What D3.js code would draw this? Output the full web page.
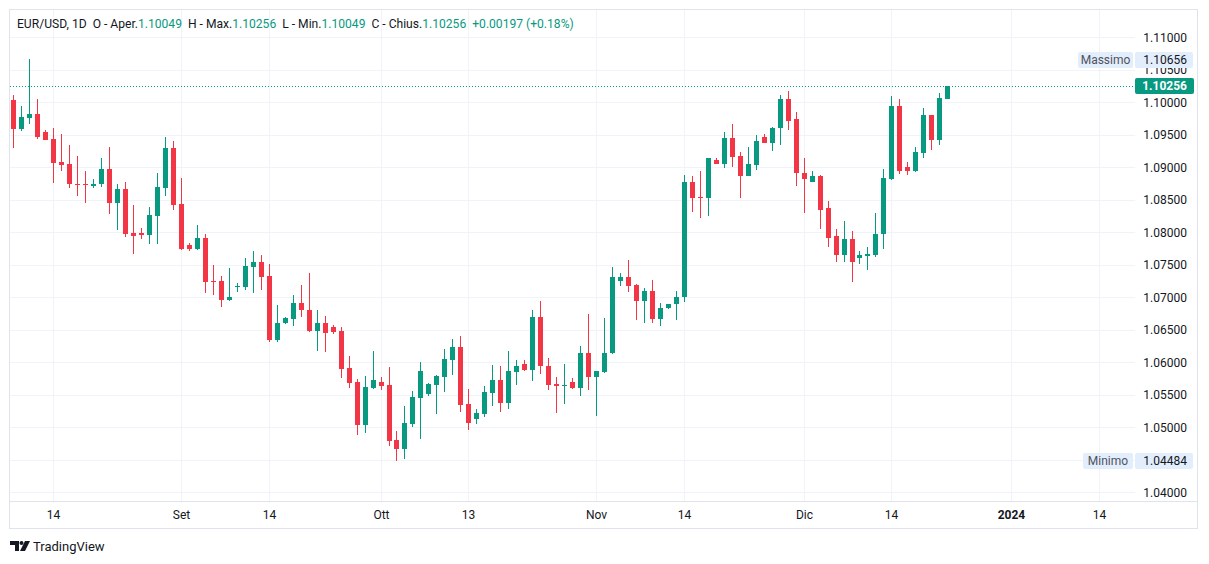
<!DOCTYPE html>
<html>
<head>
<meta charset="utf-8">
<script src="https://cdn.jsdelivr.net/npm/d3@7"></script>
<style>
  body { margin: 0; background: #ffffff; }
  svg { display: block; font-family: Roboto, "Noto Sans", sans-serif; }
</style>
</head>
<body>
<div id="chart"></div>
<script>
// EUR/USD daily candles, 8 Aug 2023 -> 22 Dec 2023 (the feed has a small Sunday bar every week)
const opens = [
  1.1003, 1.0959, 1.0976, 1.0982, 1.0954, 1.0943, 1.0908, 1.0905, 1.0875, 1.0874,
  1.0871, 1.0874, 1.0898, 1.0845, 1.0866, 1.0799, 1.0799, 1.0796, 1.0825, 1.0868,
  1.0930, 1.0844, 1.0780, 1.0774, 1.0791, 1.0725, 1.0725, 1.0696, 1.0717, 1.0716,
  1.0747, 1.0754, 1.0733, 1.0634, 1.0660, 1.0667, 1.0692, 1.0681, 1.0648, 1.0660,
  1.0655, 1.0648, 1.0591, 1.0570, 1.0504, 1.0560, 1.0570, 1.0565, 1.0480, 1.0467,
  1.0505, 1.0545, 1.0551, 1.0565, 1.0577, 1.0604, 1.0624, 1.0536, 1.0513, 1.0520,
  1.0553, 1.0573, 1.0537, 1.0585, 1.0597, 1.0588, 1.0669, 1.0595, 1.0566, 1.0564,
  1.0569, 1.0560, 1.0614, 1.0577, 1.0585, 1.0614, 1.0725, 1.0731, 1.0719, 1.0694,
  1.0710, 1.0667, 1.0684, 1.0690, 1.0700, 1.0878, 1.0854, 1.0853, 1.0912, 1.0905,
  1.0945, 1.0917, 1.0887, 1.0904, 1.0946, 1.0938, 1.0960, 1.1005, 1.0974, 1.0892,
  1.0878, 1.0886, 1.0837, 1.0794, 1.0765, 1.0789, 1.0760, 1.0763, 1.0765, 1.0797,
  1.0882, 1.0994, 1.0900, 1.0894, 1.0922, 1.0980, 1.0942, 1.10049
];
const highs = [
  1.1012, 1.0995, 1.1066, 1.1005, 1.0957, 1.0960, 1.0952, 1.0935, 1.0918, 1.0894,
  1.0882, 1.0914, 1.0931, 1.0874, 1.0877, 1.0842, 1.0807, 1.0839, 1.0892, 1.0946,
  1.0940, 1.0884, 1.0784, 1.0811, 1.0798, 1.0749, 1.0733, 1.0745, 1.0722, 1.0760,
  1.0772, 1.0765, 1.0752, 1.0688, 1.0669, 1.0703, 1.0719, 1.0737, 1.0680, 1.0672,
  1.0658, 1.0655, 1.0609, 1.0574, 1.0579, 1.0617, 1.0577, 1.0593, 1.0494, 1.0533,
  1.0556, 1.0600, 1.0568, 1.0580, 1.0620, 1.0636, 1.0640, 1.0559, 1.0528, 1.0564,
  1.0596, 1.0594, 1.0617, 1.0604, 1.0603, 1.0680, 1.0694, 1.0607, 1.0577, 1.0597,
  1.0576, 1.0625, 1.0675, 1.0587, 1.0668, 1.0746, 1.0738, 1.0757, 1.0720, 1.0715,
  1.0726, 1.0692, 1.0690, 1.0710, 1.0888, 1.0886, 1.0895, 1.0915, 1.0915, 1.0954,
  1.0966, 1.0923, 1.0931, 1.0949, 1.0951, 1.0962, 1.1011, 1.1017, 1.0985, 1.0914,
  1.0895, 1.0888, 1.0848, 1.0805, 1.0818, 1.0802, 1.0772, 1.0778, 1.0829, 1.0897,
  1.1009, 1.1005, 1.0908, 1.0932, 1.0991, 1.0981, 1.1015, 1.10256
];
const lows = [
  1.0930, 1.0956, 1.0967, 1.0944, 1.0942, 1.0876, 1.0894, 1.0868, 1.0856, 1.0845,
  1.0868, 1.0870, 1.0828, 1.0804, 1.0793, 1.0767, 1.0790, 1.0782, 1.0782, 1.0856,
  1.0834, 1.0773, 1.0771, 1.0773, 1.0707, 1.0704, 1.0685, 1.0694, 1.0708, 1.0711,
  1.0707, 1.0711, 1.0631, 1.0632, 1.0659, 1.0656, 1.0670, 1.0647, 1.0617, 1.0616,
  1.0643, 1.0576, 1.0560, 1.0488, 1.0491, 1.0559, 1.0557, 1.0471, 1.0448, 1.0451,
  1.0500, 1.0482, 1.0548, 1.0520, 1.0554, 1.0580, 1.0524, 1.0496, 1.0505, 1.0516,
  1.0533, 1.0524, 1.0528, 1.0565, 1.0587, 1.0571, 1.0582, 1.0557, 1.0522, 1.0536,
  1.0559, 1.0548, 1.0557, 1.0517, 1.0584, 1.0613, 1.0717, 1.0708, 1.0665, 1.0660,
  1.0660, 1.0656, 1.0682, 1.0665, 1.0693, 1.0831, 1.0822, 1.0825, 1.0905, 1.0899,
  1.0901, 1.0853, 1.0886, 1.0896, 1.0938, 1.0925, 1.0935, 1.0957, 1.0871, 1.0829,
  1.0878, 1.0805, 1.0778, 1.0754, 1.0755, 1.0723, 1.0751, 1.0742, 1.0762, 1.0774,
  1.0881, 1.0889, 1.0888, 1.0893, 1.0915, 1.0926, 1.0935, 1.10049
];
const closes = [
  1.0959, 1.0977, 1.0982, 1.0947, 1.0942, 1.0907, 1.0904, 1.0874, 1.0873, 1.0873,
  1.0875, 1.0898, 1.0845, 1.0866, 1.0797, 1.0794, 1.0796, 1.0827, 1.0870, 1.0930,
  1.0842, 1.0774, 1.0774, 1.0791, 1.0724, 1.0724, 1.0696, 1.0700, 1.0718, 1.0748,
  1.0754, 1.0731, 1.0634, 1.0660, 1.0668, 1.0692, 1.0680, 1.0648, 1.0660, 1.0645,
  1.0646, 1.0590, 1.0568, 1.0504, 1.0562, 1.0573, 1.0564, 1.0479, 1.0467, 1.0507,
  1.0547, 1.0587, 1.0567, 1.0579, 1.0605, 1.0624, 1.0534, 1.0507, 1.0522, 1.0554,
  1.0573, 1.0537, 1.0587, 1.0594, 1.0588, 1.0669, 1.0594, 1.0565, 1.0564, 1.0565,
  1.0560, 1.0614, 1.0577, 1.0586, 1.0615, 1.0731, 1.0731, 1.0717, 1.0694, 1.0710,
  1.0667, 1.0684, 1.0690, 1.0701, 1.0878, 1.0853, 1.0853, 1.0914, 1.0905, 1.0945,
  1.0916, 1.0887, 1.0905, 1.0940, 1.0938, 1.0960, 1.1005, 1.0972, 1.0891, 1.0882,
  1.0886, 1.0835, 1.0792, 1.0765, 1.0789, 1.0754, 1.0765, 1.0767, 1.0798, 1.0883,
  1.0994, 1.0894, 1.0894, 1.0923, 1.0980, 1.0942, 1.10059, 1.10256
];

// Price axis ticks
const priceTicks = [1.04, 1.045, 1.05, 1.055, 1.06, 1.065, 1.07, 1.075, 1.08, 1.085, 1.09, 1.095, 1.10, 1.105, 1.11];

// Time axis ticks (date of the bar, label shown)
const tickDates  = ["2023-08-14", "2023-09-01", "2023-09-14", "2023-10-01", "2023-10-13", "2023-11-01", "2023-11-14", "2023-12-01", "2023-12-14", "2024-01-01", "2024-01-14"];
const tickLabels = ["14", "Set", "14", "Ott", "13", "Nov", "14", "Dic", "14", "2024", "14"];

const maxPrice = 1.10656;
const minPrice = 1.04484;
const lastPrice = 1.10256;

const green = "#089981";
const red = "#f23645";
const gridColor = "#f0f3fa";
const frameColor = "#e0e3eb";
const textColor = "#131722";

const width = 1209;
const height = 564;

// plot area (inside the frame) and the price scale on the right
const plotLeft = 10, plotRight = 1135, plotTop = 10, plotBottom = 501;

// Session days: every calendar day from the first candle, Saturdays skipped
const fmt = d3.timeFormat("%Y-%m-%d");
const sessionDays = [];
for (let d = new Date(2023, 7, 8); sessionDays.length < 150; d.setDate(d.getDate() + 1)) {
  if (d.getDay() !== 6) sessionDays.push(fmt(d));
}

const step = 7.983; // one bar
const x = d3.scaleBand()
  .domain(sessionDays)
  .range([13.3 - step / 2, 13.3 - step / 2 + step * sessionDays.length]);
const cx = d => Math.round(x(d) + x.bandwidth() / 2);

const y = d3.scaleLinear().domain([1.04, 1.11]).range([492.3, 37.3]);
const py = v => Math.round(y(v));

const candles = opens.map((o, i) => ({
  day: sessionDays[i], o: o, h: highs[i], l: lows[i], c: closes[i]
}));

const svg = d3.select("#chart")
  .append("svg")
  .attr("width", width)
  .attr("height", height);

svg.append("rect").attr("width", width).attr("height", height).attr("fill", "#ffffff");

// grid
svg.append("g")
  .selectAll("line")
  .data(priceTicks)
  .enter()
  .append("line")
  .attr("x1", plotLeft).attr("x2", plotRight)
  .attr("y1", d => py(d) + 0.5).attr("y2", d => py(d) + 0.5)
  .attr("stroke", gridColor);

svg.append("g")
  .selectAll("line")
  .data(tickDates)
  .enter()
  .append("line")
  .attr("x1", d => cx(d) + 0.5).attr("x2", d => cx(d) + 0.5)
  .attr("y1", plotTop).attr("y2", plotBottom)
  .attr("stroke", gridColor);

// frame + time axis separator
svg.append("rect")
  .attr("x", 9.5).attr("y", 9.5)
  .attr("width", 1188).attr("height", 519)
  .attr("fill", "none")
  .attr("stroke", frameColor);

svg.append("line")
  .attr("x1", 10).attr("x2", 1197)
  .attr("y1", plotBottom + 0.5).attr("y2", plotBottom + 0.5)
  .attr("stroke", frameColor);

// last price dotted line
svg.append("line")
  .attr("x1", plotLeft).attr("x2", 1133)
  .attr("y1", py(lastPrice) + 0.5).attr("y2", py(lastPrice) + 0.5)
  .attr("stroke", green)
  .attr("stroke-dasharray", "1,2");

// candles: wick first, then body
const candleG = svg.append("g");

candleG.selectAll(".wick")
  .data(candles)
  .enter()
  .append("rect")
  .attr("class", "wick")
  .attr("x", d => cx(d.day))
  .attr("width", 1)
  .attr("y", d => py(d.h))
  .attr("height", d => Math.max(1, py(d.l) - py(d.h)))
  .attr("fill", d => d.c >= d.o ? green : red);

candleG.selectAll(".body")
  .data(candles)
  .enter()
  .append("rect")
  .attr("class", "body")
  .attr("x", d => cx(d.day) - 2)
  .attr("width", 5)
  .attr("y", d => py(Math.max(d.o, d.c)))
  .attr("height", d => Math.max(1, py(Math.min(d.o, d.c)) - py(Math.max(d.o, d.c))))
  .attr("fill", d => d.c >= d.o ? green : red);

// price scale labels (the one hidden under the Massimo marker only shows its lower half)
svg.append("clipPath").attr("id", "under-max")
  .append("rect").attr("x", 1136).attr("y", Math.round(y(maxPrice)) + 8)
  .attr("width", 70).attr("height", 40);

svg.append("g")
  .selectAll("text")
  .data(priceTicks)
  .enter()
  .append("text")
  .attr("x", 1187)
  .attr("y", d => y(d) + 4.3)
  .attr("text-anchor", "end")
  .attr("font-size", 12)
  .attr("fill", textColor)
  .attr("clip-path", d => Math.abs(y(d) - y(maxPrice)) < 14 ? "url(#under-max)" : null)
  .text(d => d3.format(".5f")(d));

// time scale labels
svg.append("g")
  .selectAll("text")
  .data(tickDates)
  .enter()
  .append("text")
  .attr("x", d => cx(d) + 0.5)
  .attr("y", 519)
  .attr("text-anchor", "middle")
  .attr("font-size", 12)
  .attr("font-weight", (d, i) => tickLabels[i] === "2024" ? "bold" : "normal")
  .attr("fill", textColor)
  .text((d, i) => tickLabels[i]);

// Massimo / Minimo markers on the price scale
function addMarker(name, value, nameLeft) {
  const top = Math.round(y(value)) - 8;
  svg.append("rect")
    .attr("x", nameLeft).attr("y", top)
    .attr("width", 1133 - nameLeft).attr("height", 16)
    .attr("rx", 2)
    .attr("fill", "#e3eefc");
  svg.append("text")
    .attr("x", (nameLeft + 1133) / 2).attr("y", top + 12)
    .attr("text-anchor", "middle")
    .attr("font-size", 12)
    .attr("fill", "#50535e")
    .text(name);
  svg.append("rect")
    .attr("x", 1135).attr("y", top)
    .attr("width", 58).attr("height", 16)
    .attr("rx", 2)
    .attr("fill", "#e3eefc");
  svg.append("text")
    .attr("x", 1187).attr("y", top + 12)
    .attr("text-anchor", "end")
    .attr("font-size", 12)
    .attr("fill", textColor)
    .text(d3.format(".5f")(value));
}
addMarker("Massimo", maxPrice, 1078);
addMarker("Minimo", minPrice, 1083);

// last price label
const lastTop = py(lastPrice) - 8;
svg.append("rect")
  .attr("x", 1135).attr("y", lastTop)
  .attr("width", 59).attr("height", 16)
  .attr("rx", 2)
  .attr("fill", green);
svg.append("text")
  .attr("x", 1187).attr("y", lastTop + 12)
  .attr("text-anchor", "end")
  .attr("font-size", 12)
  .attr("font-weight", "bold")
  .attr("fill", "#ffffff")
  .text(d3.format(".5f")(lastPrice));

// legend line at the top
const last = candles[candles.length - 1];
const prevClose = closes[closes.length - 2];
const change = last.c - prevClose;
const legend = svg.append("text")
  .attr("x", 17).attr("y", 28)
  .attr("font-size", 12.1)
  .attr("fill", textColor)
  .attr("xml:space", "preserve");

const legendParts = [
  ["EUR/USD, 1D  O - Aper.", textColor], [d3.format(".5f")(last.o), green],
  ["  H - Max.", textColor], [d3.format(".5f")(last.h), green],
  ["  L - Min.", textColor], [d3.format(".5f")(last.l), green],
  ["  C - Chius.", textColor], [d3.format(".5f")(last.c), green],
  ["  " + d3.format("+.5f")(change) + " (" + d3.format("+.2%")(change / prevClose) + ")", green]
];
legend.selectAll("tspan")
  .data(legendParts)
  .enter()
  .append("tspan")
  .attr("fill", d => d[1])
  .text(d => d[0]);

// TradingView mark + name under the chart
const logo = svg.append("g").attr("fill", textColor);
logo.append("path").attr("d", "M10 541 H19 V551 H15 V545 H10 Z");
logo.append("circle").attr("cx", 21.5).attr("cy", 543).attr("r", 2);
logo.append("path").attr("d", "M25 541 H30 L25 551 H20 Z");
svg.append("text")
  .attr("x", 33).attr("y", 551)
  .attr("font-size", 13)
  .attr("fill", textColor)
  .text("TradingView");
</script>
</body>
</html>
